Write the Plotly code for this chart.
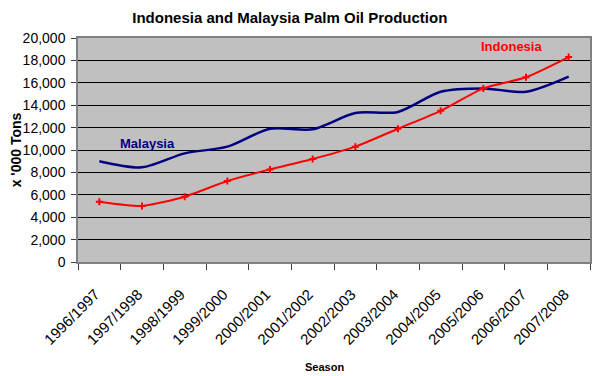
import plotly.graph_objects as go

seasons = ["1996/1997", "1997/1998", "1998/1999", "1999/2000", "2000/2001", "2001/2002",
           "2002/2003", "2003/2004", "2004/2005", "2005/2006", "2006/2007", "2007/2008"]
indonesia = [5380, 5000, 5830, 7230, 8270, 9200, 10300, 11900, 13500, 15500, 16500, 18300]
malaysia = [9000, 8450, 9700, 10300, 11900, 11850, 13300, 13400, 15200, 15500, 15200, 16550]

FONT = "Liberation Sans, Arial"

fig = go.Figure()
fig.add_trace(go.Scatter(x=seasons, y=malaysia, mode="lines", name="Malaysia",
                         line=dict(color="#000080", width=2.5, shape="spline", smoothing=0.8)))
fig.add_trace(go.Scatter(x=seasons, y=indonesia, mode="lines+markers", name="Indonesia",
                         line=dict(color="#FF0000", width=2, shape="spline", smoothing=0.6),
                         marker=dict(symbol="cross-thin", size=5, color="#FF0000",
                                     line=dict(color="#FF0000", width=2))))

fig.add_annotation(x=1.12, y=10600, text="<b>Malaysia</b>", showarrow=False,
                   font=dict(family=FONT, size=13, color="#000080"))
fig.add_annotation(x=9.67, y=19250, text="<b>Indonesia</b>", showarrow=False,
                   font=dict(family=FONT, size=13, color="#FF0000"))
fig.add_annotation(x=0.482, xref="paper", y=-0.469, yref="paper", text="<b>Season</b>",
                   xanchor="center", yanchor="middle",
                   showarrow=False, font=dict(family=FONT, size=11, color="black"))

# the page body has an 8px margin, so the figure is sized/offset to compensate
fig.update_layout(
    width=592, height=368,
    margin=dict(l=70, r=10, t=30, b=114),
    paper_bgcolor="white", plot_bgcolor="#C0C0C0",
    showlegend=False,
    title=dict(text="<b>Indonesia and Malaysia Palm Oil Production</b>",
               x=0.476, xanchor="center", y=0.974, yanchor="middle",
               font=dict(family=FONT, size=15, color="black")),
    font=dict(family=FONT, color="black"),
)
fig.update_xaxes(
    type="category", tickangle=-45, tickson="boundaries", ticks="outside", ticklen=6,
    tickcolor="#404040", showline=True, linecolor="#808080", linewidth=1.5,
    showgrid=False, tickfont=dict(size=15), mirror=True, automargin=False,
    ticklabelstandoff=16, ticklabelshift=-4,
    range=[-0.5, 11.5],
)
fig.update_yaxes(
    range=[0, 20000], dtick=2000, tickformat=",d", ticks="outside", ticklen=5,
    tickcolor="#404040", showline=True, linecolor="#808080", linewidth=1.5, mirror=True,
    showgrid=True, gridcolor="black", gridwidth=1, zeroline=False, automargin=False,
    tickfont=dict(size=14), ticklabelstandoff=3,
    title=dict(text="<b>x '000 Tons</b>", font=dict(size=14), standoff=1),
)
fig.write_html("out.html")
